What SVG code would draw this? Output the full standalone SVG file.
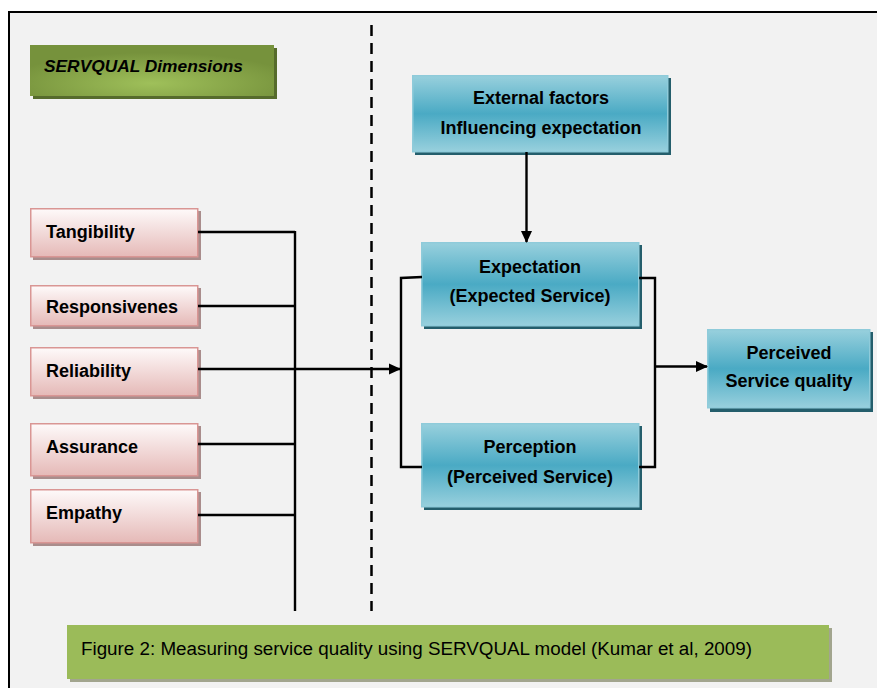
<svg xmlns="http://www.w3.org/2000/svg" width="877" height="688" viewBox="0 0 877 688">
<defs>
<linearGradient id="gPink" x1="0" y1="0" x2="0" y2="1">
<stop offset="0" stop-color="#fefafa"/>
<stop offset="1" stop-color="#e5b9b7"/>
</linearGradient>
<linearGradient id="gBlue" x1="0" y1="0" x2="0" y2="1">
<stop offset="0" stop-color="#98d0dd"/>
<stop offset="0.5" stop-color="#4aaac4"/>
<stop offset="1" stop-color="#98d0dd"/>
</linearGradient>
<radialGradient id="gGreen" cx="0.5" cy="0.75" r="0.6">
<stop offset="0" stop-color="#9fc05a"/>
<stop offset="1" stop-color="#76923c"/>
</radialGradient>
<marker id="arr" markerWidth="12" markerHeight="12" refX="11" refY="6" orient="auto" markerUnits="userSpaceOnUse">
<path d="M0,0.5 L12,6 L0,11.5 Z" fill="#000"/>
</marker>
<style>
.pink{fill:url(#gPink);stroke:#d99694;stroke-width:1.5}
.pinkSh{fill:#a98d8c}
.blue{fill:url(#gBlue);stroke:#8fcbda;stroke-width:1.5}
.blueSh{fill:#245e6c}
.t{font-family:"Liberation Sans",Arial,sans-serif;font-weight:bold;font-size:18px;fill:#000}
.tc{text-anchor:middle}
.con{fill:none;stroke:#000;stroke-width:2.4}
</style>
</defs>
<rect x="0" y="0" width="877" height="688" fill="#ffffff"/>
<rect x="9" y="12" width="880" height="690" fill="#f2f2f2" stroke="#000" stroke-width="2"/>

<line x1="371.5" y1="25" x2="371.5" y2="611" stroke="#000" stroke-width="2.5" stroke-dasharray="11 7"/>

<g id="header">
<rect x="33" y="48" width="244" height="51" fill="#566b2c"/>
<rect x="30" y="45" width="244" height="51" fill="url(#gGreen)"/>
<text x="44" y="72" font-family="Liberation Sans,Arial,sans-serif" font-weight="bold" font-style="italic" font-size="17" textLength="199" lengthAdjust="spacingAndGlyphs">SERVQUAL Dimensions</text>
</g>

<g id="tangibility">
<rect class="pinkSh" x="33" y="211" width="168" height="49"/>
<rect class="pink" x="30.75" y="208.75" width="167" height="48"/>
<text class="t" x="46" y="238">Tangibility</text>
</g>
<g id="responsivenes">
<rect class="pinkSh" x="33" y="288" width="168" height="41"/>
<rect class="pink" x="30.75" y="285.75" width="167" height="40"/>
<text class="t" x="46" y="313">Responsivenes</text>
</g>
<g id="reliability">
<rect class="pinkSh" x="33" y="350" width="168" height="49"/>
<rect class="pink" x="30.75" y="347.75" width="167" height="48"/>
<text class="t" x="46" y="377">Reliability</text>
</g>
<g id="assurance">
<rect class="pinkSh" x="33" y="426" width="168" height="53"/>
<rect class="pink" x="30.75" y="423.75" width="167" height="52"/>
<text class="t" x="46" y="453">Assurance</text>
</g>
<g id="empathy">
<rect class="pinkSh" x="33" y="492" width="168" height="54"/>
<rect class="pink" x="30.75" y="489.75" width="167" height="53"/>
<text class="t" x="46" y="519">Empathy</text>
</g>

<g id="external">
<rect class="blueSh" x="415" y="78" width="256" height="77"/>
<rect class="blue" x="412.75" y="75.75" width="255" height="76"/>
<text class="t tc" x="541" y="104">External factors</text>
<text class="t tc" x="541" y="134">Influencing expectation</text>
</g>
<g id="expectation">
<rect class="blueSh" x="424" y="245" width="218" height="84"/>
<rect class="blue" x="421.75" y="242.75" width="217" height="83"/>
<text class="t tc" x="530" y="272.5">Expectation</text>
<text class="t tc" x="530" y="302">(Expected Service)</text>
</g>
<g id="perception">
<rect class="blueSh" x="424" y="426" width="218" height="84"/>
<rect class="blue" x="421.75" y="423.75" width="217" height="83"/>
<text class="t tc" x="530" y="453">Perception</text>
<text class="t tc" x="530" y="483">(Perceived Service)</text>
</g>
<g id="perceived">
<rect class="blueSh" x="710" y="332" width="163" height="80"/>
<rect class="blue" x="707.75" y="329.75" width="162" height="78"/>
<text class="t tc" x="789" y="359">Perceived</text>
<text class="t tc" x="789" y="387">Service quality</text>
</g>

<g id="connectors">
<line class="con" x1="198" y1="232" x2="295" y2="232"/>
<line class="con" x1="198" y1="306" x2="295" y2="306"/>
<line class="con" x1="198" y1="444" x2="295" y2="444"/>
<line class="con" x1="198" y1="515" x2="295" y2="515"/>
<polyline class="con" points="295,231 295,611"/>
<line class="con" x1="198" y1="369" x2="400" y2="369" marker-end="url(#arr)"/>
<polyline class="con" points="422,277 401,278 401,467 422,467"/>
<polyline class="con" points="639,278 655,278 655,467 639,467"/>
<line class="con" x1="526.5" y1="152" x2="526.5" y2="242" marker-end="url(#arr)"/>
<line class="con" x1="655" y1="366.5" x2="707" y2="366.5" marker-end="url(#arr)"/>
</g>

<g id="caption">
<rect x="70" y="628" width="762" height="54" fill="#a2a58e"/>
<rect x="67" y="625" width="762" height="54" fill="#9bbb59"/>
<text x="81" y="655" font-family="Liberation Sans,Arial,sans-serif" font-size="18" textLength="671" lengthAdjust="spacingAndGlyphs">Figure 2: Measuring service quality using SERVQUAL model (Kumar et al, 2009)</text>
</g>
</svg>
